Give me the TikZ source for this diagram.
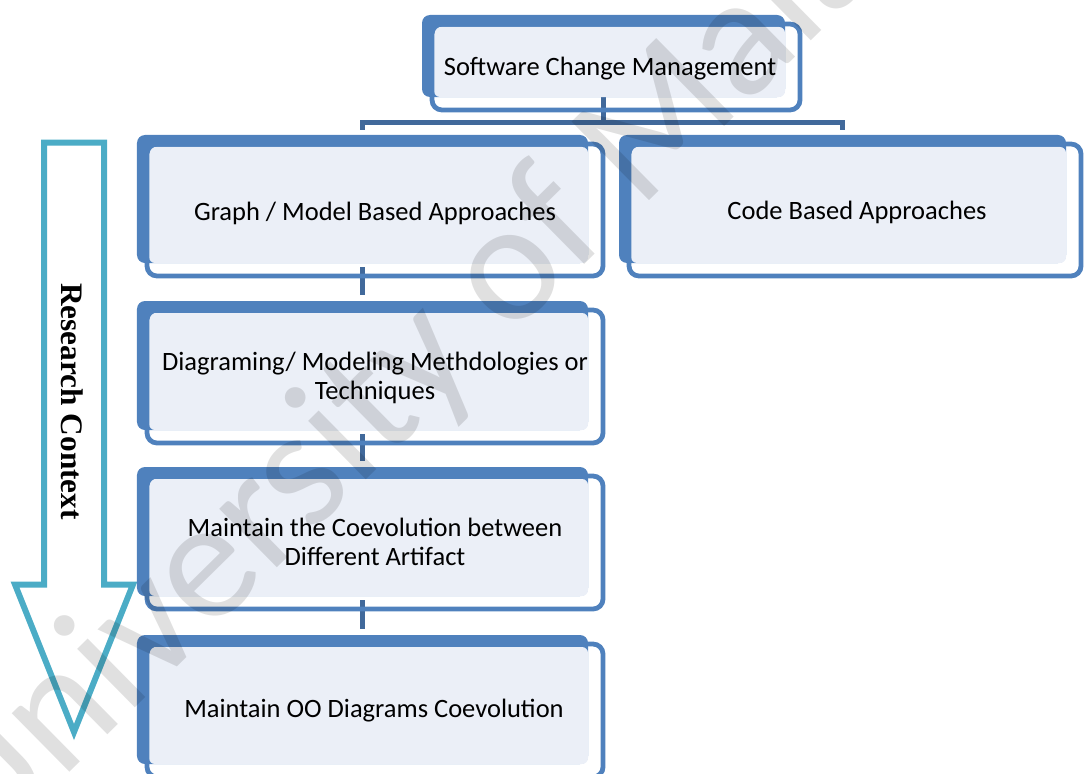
\documentclass[tikz,border=0pt]{standalone}
\usepackage{fontspec}
\setmainfont{Carlito}
\newfontfamily\ctxfont{Liberation Serif}
\usetikzlibrary{backgrounds}

\definecolor{boxblue}{HTML}{4F81BD}
\definecolor{boxfill}{HTML}{EBEFF7}
\definecolor{linkblue}{HTML}{41699B}
\definecolor{ctxteal}{HTML}{4BACC6}

\tikzset{
  backbox/.style={fill=boxblue, rounded corners=8bp, inner sep=0pt},
  lightbox/.style={fill=boxfill, rounded corners=6bp, inner sep=0pt},
  framebox/.style={draw=boxblue, line width=4.8bp, rounded corners=10bp, inner sep=0pt},
  boxtext/.style={font=\fontsize{26.5bp}{29bp}\selectfont, align=center, inner sep=0pt},
  link/.style={draw=linkblue, line width=5bp},
  ctxarrow/.style={draw=ctxteal, fill=white, line width=6bp, line join=miter, miter limit=20},
  ctxlabel/.style={font=\ctxfont\bfseries\fontsize{31.3bp}{31.3bp}\selectfont, inner sep=0pt},
  watermark/.style={font=\fontsize{172bp}{172bp}\selectfont, text=black, text opacity=0.12, inner sep=0pt},
}

% A stacked box: blue backing plate, pale face and an outlined frame,
% args: name, frame centre x, centre y, width, height, text x, text y, text
\newcommand\tribox[8]{%
  \node[backbox, minimum width=#4bp-5bp, minimum height=#5bp-4bp] (#1-b) at (#2-12.5,#3-11) {};
  \node[lightbox, minimum width=#4bp-17bp, minimum height=#5bp-16bp] (#1-l) at (#2-6.5,#3-5) {};
  \node[framebox, minimum width=#4bp, minimum height=#5bp] (#1) at (#2,#3) {};
  \node[boxtext] (#1-t) at (#6,#7) {#8};
}

\begin{document}
\begin{tikzpicture}[x=1bp, y=-1bp]
  \useasboundingbox (0,0) rectangle (1085,774);
  \clip (0,0) rectangle (1085,774);

  % boxes of the hierarchy
  \tribox{scm}{616}{67}{368}{86}{610}{68.5}{Software Change Management}
  \tribox{graph}{375}{210}{456}{132}{375}{213}{Graph / Model Based Approaches}
  \tribox{code}{855}{210}{452}{132}{857}{212}{Code Based Approaches}
  \tribox{diag}{375}{376.5}{456}{133}{375}{378}{Diagraming/ Modeling Methdologies or\\Techniques}
  \tribox{coev}{375}{542.5}{456}{133}{375}{541.5}{Maintain the Coevolution between\\Different Artifact}
  \tribox{oo}{375}{710.5}{456}{133}{374}{710.5}{Maintain OO Diagrams Coevolution}

  \begin{scope}[on background layer]
    % research context arrow
    \draw[ctxarrow] (44,142.5) -- (104,142.5) -- (104,584.5) -- (133,584.5)
      -- (74,732) -- (15,584.5) -- (44,584.5) -- cycle;

    % tree connectors
    \draw[link] (scm-b.south) -- ++(0,25) -| ([yshift=5bp]graph-b.north);
    \draw[link] (scm-b.south) -- ++(0,25) -| ([yshift=5bp]code-b.north);
    \draw[link] ([yshift=-4bp]graph-b.south) -- ([yshift=6bp]diag-b.north);
    \draw[link] ([yshift=-4bp]diag-b.south) -- ([yshift=6bp]coev-b.north);
    \draw[link] ([yshift=-4bp]coev-b.south) -- ([yshift=6bp]oo-b.north);
  \end{scope}

  \node[ctxlabel, rotate=-90] (ctx) at (72,401.5) {Research Context};

  % watermark across the page
  \node[watermark, rotate=44.6, anchor=base west] (wm) at (-17,858) {University of Malaya};
\end{tikzpicture}
\end{document}
